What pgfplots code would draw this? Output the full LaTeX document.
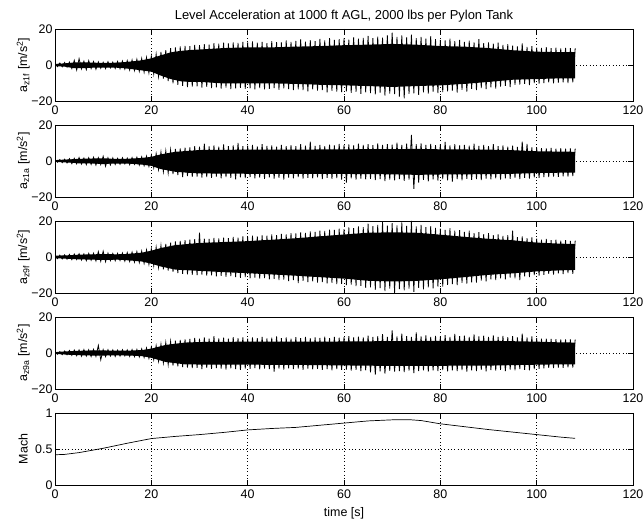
\documentclass[border=0pt]{standalone}
\usepackage{pgfplots}
\pgfplotsset{compat=1.18}
\usepackage{fontspec}
\setmainfont{Liberation Sans}

\pgfplotsset{
  panel/.style={
    scale only axis, width=578bp, height=72bp,
    anchor=south west,
    xmin=0, xmax=120, xtick={0,20,...,120},
    grid=major,
    grid style={black, line width=0.4bp, dash pattern=on 0.5bp off 2.8bp},
    tick align=inside, major tick length=5bp,
    axis line style={black, line width=0.5bp},
    every tick/.style={black, line width=0.5bp},
    tick label style={font=\fontsize{12.5}{14}\selectfont},
    xticklabel style={yshift=-1bp},
    /pgf/number format/assume math mode=true,
    yticklabel style={xshift=1bp},
    every axis y label/.style={at={(axis description cs:-0.055,0.5)}, rotate=90, anchor=center,
      font=\fontsize{12.5}{14}\selectfont},
    every axis x label/.style={at={(axis description cs:0.5,0)}, anchor=north, yshift=-19bp,
      font=\fontsize{12.5}{14}\selectfont},
  },
  accel/.style={ymin=-20, ymax=20, ytick={-20,0,20}, yticklabels={−20,0,20}},
  sig/.style={black, line width=0.8bp},
  core/.style={fill=black, draw=none},
}

\begin{document}
\begin{tikzpicture}
\useasboundingbox (0,0) rectangle (644bp,521bp);

% ---------------- panel 1 ----------------
\begin{axis}[panel, accel, at={(55bp,420bp)},
  title={Level Acceleration at 1000 ft AGL, 2000 lbs per Pylon Tank},
  title style={font=\fontsize{13}{15}\selectfont, yshift=-3bp},
  ylabel={a\textsubscript{z1f} [m/s\textsuperscript{2}]}]
\addplot[core] coordinates {
(0,0.6)(2,0.9)(4,1.4)(6,1.5)(8,1.3)(10,1.1)(12,1.2)(14,1.5)(16,2.0)(18,2.6)(20,3.7)(22,5.4)(24,7.0)(26,7.8)(28,8.3)(30,8.6)(35,9.4)(40,9.8)(45,9.8)(50,10.2)(55,10.5)(60,11.0)(65,11.3)(70,11.7)(75,11.3)(80,10.5)(85,10.2)(90,9.4)(95,8.2)(100,7.4)(105,7.1)(108,7.1)
(108,-7.4)(105,-7.4)(100,-7.8)(95,-8.2)(90,-9.4)(85,-10.5)(80,-11.3)(75,-11.7)(70,-12.2)(65,-11.7)(60,-11.3)(55,-11.0)(50,-10.5)(45,-10.2)(40,-10.2)(35,-10.2)(30,-9.4)(28,-9.4)(26,-9.0)(24,-7.8)(22,-5.9)(20,-3.7)(18,-3.0)(16,-2.3)(14,-1.7)(12,-1.4)(10,-1.4)(8,-1.5)(6,-1.7)(4,-1.8)(2,-0.9)(0,-0.6)
};
\addplot[sig] coordinates {
(0,0.8)(0.5,-0.9)(1,1.1)(1.5,-1.0)(2,1.4)(2.5,-1.2)(3,1.6)(3.5,-2.0)(4,2.6)(4.5,-2.8)
(5,3.5)(5.5,-2.2)(6,2.1)(6.5,-2.6)(7,2.4)(7.5,-2.0)(8,1.9)(8.5,-2.4)(9,1.7)(9.5,-1.8)
(10,1.5)(10.5,-2.0)(11,1.8)(11.5,-1.6)(12,1.6)(12.5,-1.9)(13,2.0)(13.5,-2.1)(14,2.2)(14.5,-2.3)
(15,2.4)(15.5,-2.8)(16,2.8)(16.5,-3.1)(17,3.2)(17.5,-3.5)(18,3.6)(18.5,-4.0)(19,4.2)(19.5,-4.4)
(20,5.0)(20.5,-5.0)(21,6.0)(21.5,-6.4)(22,7.2)(22.5,-7.6)(23,8.3)(23.5,-9.0)(24,9.4)(24.5,-10.2)
(25,9.8)(25.5,-11.0)(26,10.3)(26.5,-11.6)(27,10.6)(27.5,-12.3)(28,10.4)(28.5,-12.0)(29,11.2)(29.5,-11.8)
(30,11.0)(30.5,-12.5)(31,11.6)(31.5,-12.2)(32,11.3)(32.5,-12.8)(33,12.2)(33.5,-12.4)(34,11.8)(34.5,-13.1)
(35,12.4)(35.5,-12.6)(36,12.0)(36.5,-13.4)(37,12.6)(37.5,-13.0)(38,12.3)(38.5,-12.7)(39,12.9)(39.5,-13.3)
(40,12.5)(40.5,-13.0)(41,13.1)(41.5,-13.5)(42,12.4)(42.5,-12.8)(43,12.8)(43.5,-13.6)(44,12.2)(44.5,-13.2)
(45,13.3)(45.5,-12.9)(46,12.7)(46.5,-13.8)(47,12.5)(47.5,-13.0)(48,13.6)(48.5,-13.4)(49,12.9)(49.5,-14.0)
(50,13.4)(50.5,-13.5)(51,14.2)(51.5,-13.9)(52,13.0)(52.5,-14.6)(53,13.8)(53.5,-13.6)(54,13.3)(54.5,-14.2)
(55,14.5)(55.5,-14.0)(56,13.6)(56.5,-15.2)(57,14.9)(57.5,-14.3)(58,13.9)(58.5,-14.8)(59,14.3)(59.5,-15.1)
(60,14.8)(60.5,-14.6)(61,14.1)(61.5,-15.5)(62,15.4)(62.5,-14.9)(63,14.6)(63.5,-16.0)(64,15.0)(64.5,-15.2)
(65,16.2)(65.5,-15.6)(66,14.9)(66.5,-16.3)(67,15.7)(67.5,-15.4)(68,15.2)(68.5,-17.0)(69,16.5)(69.5,-15.9)
(70,18.0)(70.5,-16.2)(71,15.6)(71.5,-17.5)(72,16.4)(72.5,-18.5)(73,15.3)(73.5,-16.1)(74,16.8)(74.5,-15.7)
(75,14.9)(75.5,-16.6)(76,15.6)(76.5,-15.2)(77,14.7)(77.5,-15.9)(78,16.0)(78.5,-14.8)(79,14.4)(79.5,-15.6)
(80,14.0)(80.5,-15.0)(81,13.6)(81.5,-14.6)(82,14.6)(82.5,-14.2)(83,13.3)(83.5,-15.3)(84,13.9)(84.5,-13.8)
(85,12.8)(85.5,-14.8)(86,13.5)(86.5,-13.2)(87,12.6)(87.5,-14.0)(88,14.3)(88.5,-12.8)(89,12.2)(89.5,-13.4)
(90,12.5)(90.5,-12.4)(91,11.8)(91.5,-13.1)(92,12.4)(92.5,-12.0)(93,11.2)(93.5,-11.6)(94,11.6)(94.5,-12.3)
(95,10.8)(95.5,-11.0)(96,10.3)(96.5,-10.9)(97,12.0)(97.5,-10.5)(98,10.0)(98.5,-11.2)(99,10.5)(99.5,-10.1)
(100,9.7)(100.5,-10.4)(101,9.5)(101.5,-10.0)(102,9.9)(102.5,-9.7)(103,9.3)(103.5,-10.2)(104,9.6)(104.5,-9.8)
(105,9.2)(105.5,-9.6)(106,9.5)(106.5,-10.0)(107,9.4)(107.5,-9.7)(108,9.3)
};
\end{axis}

% ---------------- panel 2 ----------------
\begin{axis}[panel, accel, at={(55bp,324bp)},
  ylabel={a\textsubscript{z1a} [m/s\textsuperscript{2}]}]
\addplot[core] coordinates {
(0,0.5)(3,0.9)(5,1.2)(8,1.4)(10,1.5)(12,1.2)(15,1.2)(18,1.7)(20,2.3)(22,3.7)(25,5.1)(28,5.7)(30,6.1)(40,6.3)(50,6.3)(60,6.5)(70,6.6)(75,6.7)(80,6.5)(90,6.3)(95,6.0)(100,5.4)(105,5.2)(108,5.1)
(108,-6.4)(105,-6.5)(100,-6.7)(95,-7.1)(90,-7.3)(80,-7.5)(75,-7.7)(70,-7.4)(60,-7.2)(50,-7.1)(40,-7.1)(30,-6.9)(28,-6.6)(25,-6.0)(22,-4.5)(20,-2.7)(18,-2.0)(15,-1.4)(12,-1.4)(10,-1.7)(8,-1.4)(5,-1.3)(3,-0.9)(0,-0.5)
};
\addplot[sig] coordinates {
(0,0.6)(0.5,-0.7)(1,0.8)(1.5,-0.9)(2,1.0)(2.5,-1.1)(3,1.3)(3.5,-1.5)(4,1.5)(4.5,-1.6)
(5,1.9)(5.5,-1.7)(6,1.6)(6.5,-2.0)(7,1.8)(7.5,-1.9)(8,2.1)(8.5,-2.3)(9,1.9)(9.5,-2.0)
(10,2.6)(10.5,-2.9)(11,1.8)(11.5,-2.2)(12,1.7)(12.5,-1.9)(13,1.5)(13.5,-1.8)(14,1.8)(14.5,-1.6)
(15,1.6)(15.5,-2.0)(16,1.9)(16.5,-1.8)(17,2.1)(17.5,-2.3)(18,2.3)(18.5,-2.6)(19,2.7)(19.5,-3.0)
(20,3.2)(20.5,-3.7)(21,4.1)(21.5,-4.8)(22,5.0)(22.5,-6.0)(23,5.6)(23.5,-6.6)(24,6.2)(24.5,-7.3)
(25,6.7)(25.5,-7.8)(26,7.0)(26.5,-9.0)(27,7.4)(27.5,-8.4)(28,7.6)(28.5,-8.8)(29,8.2)(29.5,-8.6)
(30,7.9)(30.5,-9.2)(31,9.6)(31.5,-8.9)(32,8.1)(32.5,-9.4)(33,8.6)(33.5,-8.7)(34,8.0)(34.5,-9.6)
(35,9.2)(35.5,-9.0)(36,8.3)(36.5,-9.3)(37,8.7)(37.5,-10.2)(38,10.0)(38.5,-9.1)(39,8.2)(39.5,-9.5)
(40,8.5)(40.5,-9.0)(41,8.9)(41.5,-9.7)(42,8.1)(42.5,-9.2)(43,9.4)(43.5,-9.9)(44,8.4)(44.5,-9.1)
(45,8.6)(45.5,-9.8)(46,8.0)(46.5,-9.3)(47,9.0)(47.5,-10.4)(48,8.3)(48.5,-9.2)(49,8.8)(49.5,-9.6)
(50,8.2)(50.5,-9.0)(51,9.3)(51.5,-9.8)(52,8.5)(52.5,-9.3)(53,10.8)(53.5,-9.7)(54,8.4)(54.5,-9.1)
(55,8.9)(55.5,-10.0)(56,8.2)(56.5,-9.4)(57,9.1)(57.5,-9.9)(58,8.6)(58.5,-9.5)(59,9.5)(59.5,-10.3)
(60,8.8)(60.5,-12.0)(61,9.2)(61.5,-9.7)(62,8.7)(62.5,-10.4)(63,9.6)(63.5,-9.8)(64,8.9)(64.5,-10.2)
(65,9.3)(65.5,-9.9)(66,8.8)(66.5,-10.6)(67,9.8)(67.5,-10.0)(68,9.0)(68.5,-11.2)(69,9.4)(69.5,-10.3)
(70,9.1)(70.5,-10.8)(71,10.2)(71.5,-10.1)(72,9.0)(72.5,-11.0)(73,9.6)(73.5,-10.4)(74,14.5)(74.5,-15.5)
(75,9.3)(75.5,-12.0)(76,9.8)(76.5,-10.5)(77,8.9)(77.5,-11.3)(78,9.5)(78.5,-10.2)(79,8.8)(79.5,-10.9)
(80,9.2)(80.5,-10.0)(81,10.6)(81.5,-10.7)(82,8.7)(82.5,-11.4)(83,9.3)(83.5,-10.1)(84,8.6)(84.5,-10.8)
(85,9.0)(85.5,-9.9)(86,8.5)(86.5,-10.5)(87,9.6)(87.5,-10.0)(88,8.4)(88.5,-10.6)(89,8.9)(89.5,-9.8)
(90,8.3)(90.5,-10.2)(91,9.4)(91.5,-9.7)(92,8.2)(92.5,-10.4)(93,8.6)(93.5,-9.6)(94,8.0)(94.5,-9.9)
(95,8.5)(95.5,-9.4)(96,7.8)(96.5,-10.1)(97,10.8)(97.5,-9.3)(98,9.5)(98.5,-9.8)(99,7.6)(99.5,-9.1)
(100,7.4)(100.5,-9.4)(101,7.2)(101.5,-8.9)(102,7.0)(102.5,-9.0)(103,7.3)(103.5,-8.7)(104,6.9)(104.5,-8.8)
(105,7.1)(105.5,-8.5)(106,6.8)(106.5,-8.7)(107,7.0)(107.5,-8.4)(108,6.9)
};
\end{axis}

% ---------------- panel 3 ----------------
\begin{axis}[panel, accel, at={(55bp,228bp)},
  ylabel={a\textsubscript{z9f} [m/s\textsuperscript{2}]}]
\addplot[core] coordinates {
(0,0.7)(3,1.0)(5,1.3)(8,1.5)(10,1.6)(13,1.5)(15,1.7)(18,2.4)(20,3.5)(22,5.0)(25,6.6)(30,7.8)(35,8.3)(40,8.8)(45,9.6)(50,10.4)(55,11.5)(60,12.5)(65,13.5)(70,13.7)(75,13.5)(80,12.4)(85,11.2)(90,10.1)(95,9.3)(100,8.0)(105,7.4)(108,7.2)
(108,-7.2)(105,-7.4)(100,-8.0)(95,-9.1)(90,-9.9)(85,-11.2)(80,-12.4)(75,-13.3)(70,-13.6)(65,-13.2)(60,-12.0)(55,-11.2)(50,-10.4)(45,-9.7)(40,-9.0)(35,-8.4)(30,-7.7)(25,-7.0)(22,-5.3)(20,-3.7)(18,-2.5)(15,-1.8)(13,-1.5)(10,-1.6)(8,-1.5)(5,-1.3)(3,-1.0)(0,-0.7)
};
\addplot[sig] coordinates {
(0,0.8)(0.5,-0.9)(1,1.0)(1.5,-1.1)(2,1.2)(2.5,-1.2)(3,1.4)(3.5,-1.5)(4,1.6)(4.5,-1.4)
(5,1.8)(5.5,-1.7)(6,1.7)(6.5,-2.0)(7,2.0)(7.5,-1.8)(8,2.1)(8.5,-2.2)(9,3.0)(9.5,-2.4)
(10,3.2)(10.5,-2.6)(11,2.2)(11.5,-2.0)(12,1.9)(12.5,-2.1)(13,2.0)(13.5,-1.9)(14,2.2)(14.5,-2.3)
(15,2.4)(15.5,-2.5)(16,2.7)(16.5,-2.8)(17,3.0)(17.5,-3.1)(18,3.3)(18.5,-3.5)(19,3.9)(19.5,-4.1)
(20,4.6)(20.5,-4.8)(21,5.5)(21.5,-5.8)(22,6.4)(22.5,-6.8)(23,7.2)(23.5,-7.5)(24,7.9)(24.5,-8.3)
(25,8.6)(25.5,-9.0)(26,9.0)(26.5,-9.3)(27,9.4)(27.5,-9.6)(28,9.6)(28.5,-9.9)(29,9.9)(29.5,-10.1)
(30,13.5)(30.5,-9.8)(31,10.2)(31.5,-10.4)(32,10.0)(32.5,-10.2)(33,10.6)(33.5,-10.7)(34,10.3)(34.5,-10.5)
(35,10.8)(35.5,-11.0)(36,10.5)(36.5,-10.6)(37,11.1)(37.5,-11.2)(38,10.8)(38.5,-11.6)(39,11.4)(39.5,-11.1)
(40,11.2)(40.5,-11.8)(41,11.8)(41.5,-11.4)(42,11.5)(42.5,-12.0)(43,12.0)(43.5,-11.7)(44,11.8)(44.5,-12.4)
(45,12.5)(45.5,-12.1)(46,12.2)(46.5,-12.8)(47,12.9)(47.5,-12.5)(48,12.6)(48.5,-13.4)(49,13.3)(49.5,-12.9)
(50,13.1)(50.5,-14.5)(51,13.6)(51.5,-13.3)(52,13.4)(52.5,-13.9)(53,14.2)(53.5,-13.6)(54,14.0)(54.5,-14.2)
(55,14.7)(55.5,-14.0)(56,14.5)(56.5,-14.6)(57,15.2)(57.5,-14.4)(58,15.0)(58.5,-15.1)(59,15.8)(59.5,-14.9)
(60,15.5)(60.5,-15.6)(61,16.4)(61.5,-15.4)(62,16.0)(62.5,-16.2)(63,17.0)(63.5,-16.0)(64,16.6)(64.5,-17.1)
(65,18.5)(65.5,-16.8)(66,17.1)(66.5,-18.2)(67,17.8)(67.5,-17.3)(68,19.5)(68.5,-19.0)(69,17.4)(69.5,-17.6)
(70,18.8)(70.5,-20.0)(71,17.6)(71.5,-17.9)(72,19.2)(72.5,-18.6)(73,17.3)(73.5,-17.5)(74,20.0)(74.5,-19.4)
(75,17.0)(75.5,-17.2)(76,17.8)(76.5,-18.0)(77,16.6)(77.5,-16.9)(78,17.2)(78.5,-17.4)(79,16.1)(79.5,-16.4)
(80,15.8)(80.5,-16.4)(81,15.1)(81.5,-15.5)(82,16.0)(82.5,-15.0)(83,14.6)(83.5,-15.6)(84,14.9)(84.5,-14.4)
(85,14.0)(85.5,-14.8)(86,14.6)(86.5,-14.1)(87,13.3)(87.5,-14.2)(88,13.8)(88.5,-13.1)(89,12.7)(89.5,-13.6)
(90,13.2)(90.5,-12.4)(91,12.2)(91.5,-12.9)(92,12.6)(92.5,-11.9)(93,11.7)(93.5,-12.4)(94,12.1)(94.5,-11.4)
(95,14.6)(95.5,-11.9)(96,11.0)(96.5,-12.8)(97,11.5)(97.5,-10.7)(98,10.5)(98.5,-11.1)(99,10.9)(99.5,-10.1)
(100,10.2)(100.5,-10.4)(101,9.6)(101.5,-9.9)(102,10.0)(102.5,-9.4)(103,9.3)(103.5,-9.8)(104,9.7)(104.5,-9.1)
(105,9.1)(105.5,-9.5)(106,9.4)(106.5,-8.9)(107,8.9)(107.5,-9.3)(108,9.1)
};
\end{axis}

% ---------------- panel 4 ----------------
\begin{axis}[panel, accel, at={(55bp,132bp)},
  ylabel={a\textsubscript{z9a} [m/s\textsuperscript{2}]}]
\addplot[core] coordinates {
(0,0.5)(3,1.0)(6,1.3)(9,1.5)(12,1.3)(15,1.3)(18,1.6)(20,2.4)(23,4.5)(27,5.8)(30,6.1)(40,6.3)(50,6.3)(60,6.4)(70,6.6)(80,6.8)(90,6.8)(100,6.3)(105,5.9)(108,5.8)
(108,-6.3)(105,-6.3)(100,-6.5)(90,-7.0)(80,-7.1)(70,-7.2)(60,-6.9)(50,-6.6)(40,-6.5)(30,-6.4)(27,-6.3)(23,-5.0)(20,-2.7)(18,-1.7)(15,-1.4)(12,-1.3)(9,-1.5)(6,-1.3)(3,-1.0)(0,-0.5)
};
\addplot[sig] coordinates {
(0,0.6)(0.5,-0.7)(1,0.8)(1.5,-0.9)(2,1.1)(2.5,-1.0)(3,1.4)(3.5,-1.3)(4,1.6)(4.5,-1.5)
(5,1.7)(5.5,-1.8)(6,1.9)(6.5,-1.7)(7,1.8)(7.5,-2.0)(8,2.0)(8.5,-1.9)(9,4.2)(9.5,-3.8)
(10,1.9)(10.5,-2.0)(11,1.8)(11.5,-1.7)(12,1.7)(12.5,-1.9)(13,1.6)(13.5,-1.7)(14,1.8)(14.5,-1.6)
(15,1.7)(15.5,-1.9)(16,1.9)(16.5,-2.0)(17,2.0)(17.5,-2.2)(18,2.3)(18.5,-2.5)(19,2.8)(19.5,-3.0)
(20,3.3)(20.5,-3.8)(21,4.1)(21.5,-4.6)(22,4.9)(22.5,-5.5)(23,5.8)(23.5,-6.4)(24,6.4)(24.5,-7.0)
(25,6.9)(25.5,-7.4)(26,7.3)(26.5,-7.8)(27,7.6)(27.5,-8.1)(28,7.8)(28.5,-8.4)(29,8.4)(29.5,-8.2)
(30,7.9)(30.5,-9.0)(31,8.6)(31.5,-8.3)(32,8.0)(32.5,-8.8)(33,9.3)(33.5,-8.4)(34,8.1)(34.5,-8.7)
(35,8.5)(35.5,-9.2)(36,7.9)(36.5,-8.5)(37,8.8)(37.5,-8.9)(38,8.2)(38.5,-9.4)(39,8.6)(39.5,-8.6)
(40,8.0)(40.5,-8.8)(41,8.7)(41.5,-8.4)(42,8.3)(42.5,-9.1)(43,8.9)(43.5,-8.6)(44,8.1)(44.5,-9.0)
(45,8.5)(45.5,-10.4)(46,9.2)(46.5,-8.7)(47,8.2)(47.5,-9.2)(48,8.6)(48.5,-8.5)(49,8.0)(49.5,-9.0)
(50,8.8)(50.5,-8.7)(51,8.3)(51.5,-9.3)(52,9.0)(52.5,-8.6)(53,8.2)(53.5,-9.1)(54,8.7)(54.5,-8.8)
(55,8.4)(55.5,-9.4)(56,9.1)(56.5,-8.9)(57,8.3)(57.5,-9.6)(58,8.9)(58.5,-9.0)(59,8.5)(59.5,-9.3)
(60,8.8)(60.5,-9.2)(61,9.4)(61.5,-9.8)(62,8.6)(62.5,-9.4)(63,9.1)(63.5,-10.1)(64,8.7)(64.5,-9.6)
(65,9.6)(65.5,-10.8)(66,8.9)(66.5,-12.0)(67,9.3)(67.5,-10.2)(68,10.5)(68.5,-11.5)(69,9.0)(69.5,-9.9)
(70,12.6)(70.5,-10.4)(71,9.2)(71.5,-10.0)(72,10.8)(72.5,-10.6)(73,9.4)(73.5,-9.8)(74,9.0)(74.5,-11.2)
(75,11.4)(75.5,-10.0)(76,9.2)(76.5,-9.7)(77,9.8)(77.5,-10.3)(78,8.9)(78.5,-9.6)(79,9.5)(79.5,-10.0)
(80,9.1)(80.5,-9.5)(81,9.9)(81.5,-10.2)(82,9.0)(82.5,-9.7)(83,10.6)(83.5,-10.1)(84,9.3)(84.5,-9.5)
(85,9.7)(85.5,-10.4)(86,9.0)(86.5,-9.6)(87,10.3)(87.5,-10.0)(88,9.2)(88.5,-9.4)(89,9.6)(89.5,-10.2)
(90,9.0)(90.5,-9.5)(91,9.8)(91.5,-9.8)(92,8.9)(92.5,-9.3)(93,9.5)(93.5,-10.1)(94,8.8)(94.5,-9.2)
(95,9.3)(95.5,-9.6)(96,8.7)(96.5,-9.0)(97,10.8)(97.5,-9.4)(98,8.6)(98.5,-9.7)(99,9.2)(99.5,-8.9)
(100,8.3)(100.5,-8.8)(101,8.0)(101.5,-8.5)(102,7.9)(102.5,-8.3)(103,7.8)(103.5,-8.4)(104,7.7)(104.5,-8.1)
(105,7.6)(105.5,-8.2)(106,7.5)(106.5,-8.0)(107,7.6)(107.5,-8.1)(108,7.5)
};
\end{axis}

% ---------------- panel 5 ----------------
\begin{axis}[panel, at={(55bp,36bp)},
  ymin=0, ymax=1, ytick={0,0.5,1}, yticklabels={0,0.5,1},
  xlabel={time [s]}, ylabel={Mach}]
\addplot[black, line width=0.7bp] coordinates {
(0,0.42)(2,0.425)(5,0.45)(10,0.51)(15,0.58)(20,0.645)(25,0.675)(30,0.70)(35,0.73)(40,0.765)(45,0.785)(50,0.80)(55,0.83)(60,0.86)(65,0.89)(70,0.905)(74,0.905)(76,0.895)(80,0.85)(85,0.81)(90,0.77)(95,0.735)(100,0.70)(105,0.665)(108,0.648)
};
\end{axis}
\end{tikzpicture}
\end{document}
